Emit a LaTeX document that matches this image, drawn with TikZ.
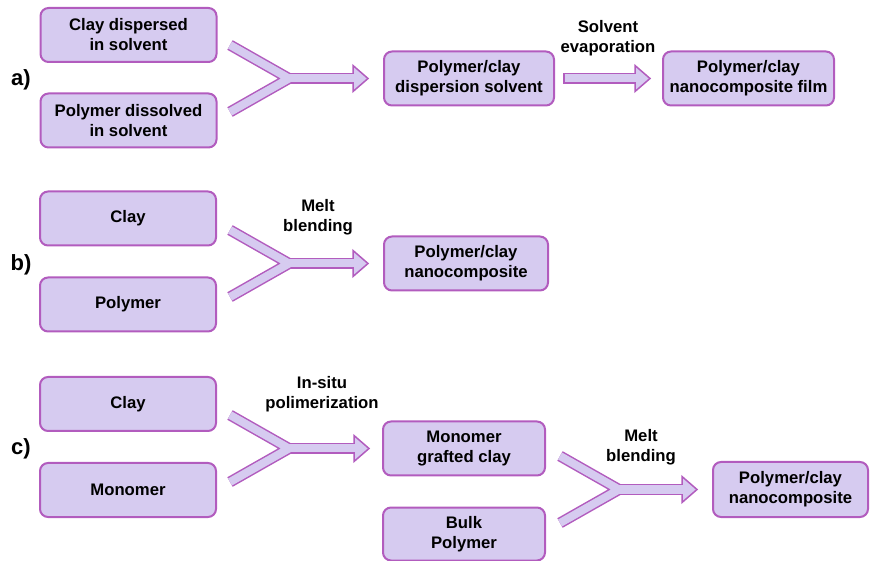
\documentclass[tikz,border=0pt]{standalone}
\usepackage{fontspec}
\setmainfont{Liberation Sans}
\usetikzlibrary{positioning,calc}
\definecolor{boxfill}{RGB}{214,203,240}
\definecolor{boxline}{RGB}{178,92,190}

% Y-shaped merge arrow: upper arm, lower arm, junction, tip
\newcommand{\mergearrow}[4]{%
  \draw[armout] (#1) -- (#3) -- (#2);
  \draw[armout] (#3) -- ($(#4)+(-15,0)$);
  \draw[arrowhead] ($(#4)+(-15,13)$) -- (#4) -- ($(#4)+(-15,-13)$) -- cycle;
  \draw[armin] (#1) -- (#3) -- (#2);
  \draw[armin] (#3) -- ($(#4)+(-14,0)$);
}
% straight block arrow: start, tip
\newcommand{\blockarrow}[2]{%
  \draw[armout] (#1) -- ($(#2)+(-15,0)$);
  \draw[arrowhead] ($(#2)+(-15,13)$) -- (#2) -- ($(#2)+(-15,-13)$) -- cycle;
  \draw[armin] ($(#1)+(1.5,0)$) -- ($(#2)+(-14,0)$);
}

\begin{document}
\begin{tikzpicture}[
  x=1pt,y=-1pt,
  font=\fontsize{16.7}{20}\selectfont\bfseries,
  stage/.style={rectangle,rounded corners=8pt,draw=boxline,line width=2pt,fill=boxfill,align=center,inner sep=2pt,minimum width=176pt,minimum height=54pt},
  result/.style={stage,minimum width=166pt},
  armout/.style={draw=boxline,line width=11pt,line join=miter},
  armin/.style={draw=boxfill,line width=8pt,line join=miter},
  arrowhead/.style={draw=boxline,fill=boxfill,line width=1.5pt,line join=miter},
  tag/.style={font=\fontsize{22}{24}\selectfont\bfseries},
  step label/.style={align=center}
]
\useasboundingbox (0,0) rectangle (871,561);

% a) solution route
\node[stage] (a1) at (128.5,35) {Clay dispersed\\in solvent};
\node[stage] (a2) at (128.5,120.5) {Polymer dissolved\\in solvent};
\node[result,minimum width=170pt] (a3) at (469,78.5) {Polymer/clay\\dispersion solvent};
\node[result,minimum width=171pt] (a4) at (748.5,78.5) {Polymer/clay\\nanocomposite film};
\node[tag] (ta) at (21,80) {a)};
\node[step label] (la) at (608,38) {Solvent\\evaporation};
\coordinate (a-up) at (230,45);
\coordinate (a-lo) at (230,112);
\coordinate (a-j) at (289,78.5);
\coordinate (a-tip) at ($(a3.west)+(-15,0)$);
\mergearrow{a-up}{a-lo}{a-j}{a-tip}
\coordinate (a-s) at ($(a3.east)+(8,0)$);
\coordinate (a-e) at ($(a4.west)+(-12,0)$);
\blockarrow{a-s}{a-e}

% b) melt blending
\node[stage] (b1) at (128,218.5) {Clay};
\node[stage] (b2) at (128,304.5) {Polymer};
\node[result,minimum width=164pt] (b3) at (466,263.5) {Polymer/clay\\nanocomposite};
\node[tag] (tb) at (21,265) {b)};
\node[step label] (lb) at (318,217) {Melt\\blending};
\coordinate (b-up) at (230,230);
\coordinate (b-lo) at (230,297);
\coordinate (b-j) at (289,263.5);
\coordinate (b-tip) at ($(b3.west)+(-15,0)$);
\mergearrow{b-up}{b-lo}{b-j}{b-tip}

% c) in-situ polymerization
\node[stage] (c1) at (128,404) {Clay};
\node[stage] (c2) at (128,490) {Monomer};
\node[result,minimum width=162pt] (c3) at (464,448.5) {Monomer\\grafted clay};
\node[result,minimum width=162pt,minimum height=53pt] (c4) at (464,534) {Bulk\\Polymer};
\node[result,minimum width=155pt,minimum height=55pt] (c5) at (790.5,489.5) {Polymer/clay\\nanocomposite};
\node[tag] (tc) at (21,449) {c)};
\node[step label] (lc) at (322,394) {In-situ\\polimerization};
\node[step label] (ld) at (641,447) {Melt\\blending};
\coordinate (c-up) at (230,415);
\coordinate (c-lo) at (230,482);
\coordinate (c-j) at (289,448.5);
\coordinate (c-tip) at ($(c3.west)+(-13,0)$);
\mergearrow{c-up}{c-lo}{c-j}{c-tip}
\coordinate (d-up) at (560,456);
\coordinate (d-lo) at (560,523);
\coordinate (d-j) at (619,489.5);
\coordinate (d-tip) at ($(c5.west)+(-15,0)$);
\mergearrow{d-up}{d-lo}{d-j}{d-tip}
\end{tikzpicture}
\end{document}
